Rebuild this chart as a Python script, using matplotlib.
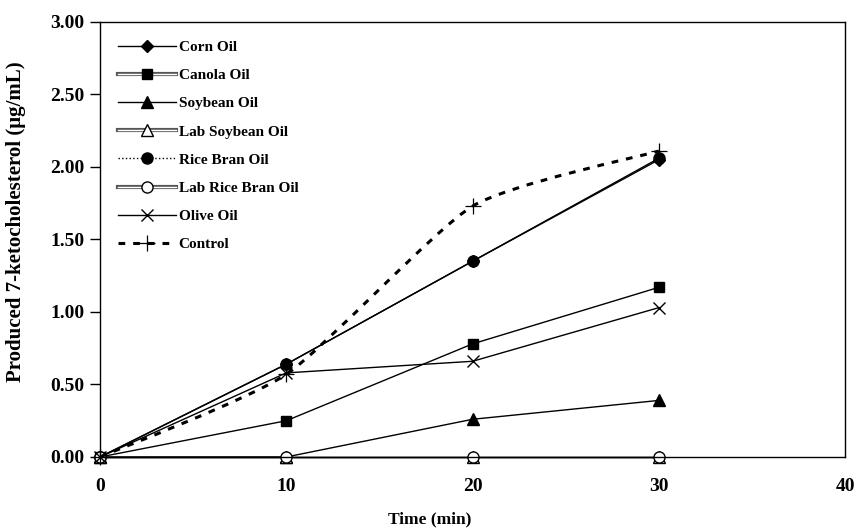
import matplotlib.pyplot as plt
import numpy as np
from matplotlib.lines import Line2D
from matplotlib.path import Path
from matplotlib.patches import PathPatch
from matplotlib.legend_handler import HandlerTuple

plt.rcParams['font.family'] = ['Liberation Serif', 'DejaVu Serif']
plt.rcParams['font.weight'] = 'bold'

time = [0, 10, 20, 30]

corn = [0.0, 0.64, 1.35, 2.05]
canola = [0.0, 0.25, 0.78, 1.17]
soybean = [0.0, 0.0, 0.26, 0.39]
lab_soybean = [0.0, 0.0, 0.0, 0.0]
rice_bran = [0.0, 0.64, 1.35, 2.06]
lab_rice_bran = [0.0, 0.0, 0.0, 0.0]
olive = [0.0, 0.58, 0.66, 1.03]
control = [0.0, 0.57, 1.73, 2.11]

fig = plt.figure(figsize=(8.58, 5.31), dpi=100)
ax = fig.add_axes([0.1166, 0.1394, 0.8684, 0.8192])

ms = 7
lw = 1.0
common = dict(color='black', lw=lw, clip_on=False)
ax.plot(time, corn, marker='D', ms=ms - 1, **common)
ax.plot(time, canola, marker='s', ms=ms, **common)
ax.plot(time, soybean, marker='^', ms=ms + 1, **common)
ax.plot(time, lab_soybean, marker='^', ms=ms + 1, mfc='white', mec='black', mew=1.0, **common)
ax.plot(time, rice_bran, marker='o', ms=ms + 1, **common)
ax.plot(time, lab_rice_bran, marker='o', ms=ms + 1, mfc='white', mec='black', mew=1.0,
        **common)
ax.plot(time, olive, marker='x', ms=ms + 2, mew=1.0, **common)

# control: lightly smoothed dashed curve through the points (cubic Bezier segments)
pts = np.column_stack([time, control]).astype(float)
ext = np.vstack([pts[0], pts, pts[-1]])
verts = [tuple(pts[0])]
codes = [Path.MOVETO]
for i in range(1, len(ext) - 2):
    p0, p1, p2, p3 = ext[i - 1], ext[i], ext[i + 1], ext[i + 2]
    c1 = p1 + (p2 - p0) / 10.0
    c2 = p2 - (p3 - p1) / 10.0
    verts += [tuple(c1), tuple(c2), tuple(p2)]
    codes += [Path.CURVE4] * 3
ax.add_patch(PathPatch(Path(verts, codes), fill=False, edgecolor='black',
                       lw=2.2, linestyle=(0, (2.2, 2.6)), zorder=3))
ax.plot(time, control, linestyle='none', marker='+', color='black', ms=ms + 4, mew=0.9,
        clip_on=False)

ax.set_xlim(0, 40)
ax.set_ylim(0, 3.0)
ax.set_xticks([0, 10, 20, 30, 40])
ax.set_yticks(np.arange(0, 3.01, 0.5))
ax.set_yticklabels([f"{v:.2f}" for v in np.arange(0, 3.01, 0.5)])
ax.tick_params(axis='both', direction='out', length=7, width=1.0, labelsize=14)
ax.tick_params(axis='y', pad=4)
ax.tick_params(axis='x', length=0, pad=15)
for side in ['top', 'right']:
    ax.spines[side].set_visible(False)
ax.spines['left'].set_linewidth(1.0)
ax.spines['bottom'].set_linewidth(1.0)
ax.axhline(3.0, color='black', lw=1.0, clip_on=False)
ax.axvline(40, color='black', lw=1.0, clip_on=False)

ax.set_xlabel("Time (min)", fontsize=12.5, fontweight='bold')
ax.xaxis.set_label_coords(0.443, -0.125)
ax.set_ylabel("Produced 7-ketocholesterol (\u03bcg/mL)", fontsize=15, fontweight='bold')
ax.yaxis.set_label_coords(-0.1, 0.54)


def double_line(mk, **kw):
    outer = Line2D([], [], color='#555555', lw=3.0)
    inner = Line2D([], [], color='white', lw=1.0)
    m = Line2D([], [], linestyle='none', marker=mk, color='black', **kw)
    return (outer, inner, m)


handles = [
    Line2D([], [], color='black', lw=lw, marker='D', ms=ms - 1),
    double_line('s', ms=ms),
    Line2D([], [], color='black', lw=lw, marker='^', ms=ms + 1),
    double_line('^', ms=ms + 1, mfc='white', mec='black'),
    Line2D([], [], color='black', lw=lw, ls=':', marker='o', ms=ms + 1),
    double_line('o', ms=ms + 1, mfc='white', mec='black'),
    Line2D([], [], color='black', lw=lw, marker='x', ms=ms + 2),
    Line2D([], [], color='black', lw=2.2, ls=(0, (2.2, 2.6)), marker='+', ms=ms + 4,
           mew=0.9),
]
labels = ["Corn Oil", "Canola Oil", "Soybean Oil", "Lab Soybean Oil", "Rice Bran Oil",
          "Lab Rice Bran Oil", "Olive Oil", "Control"]
ax.legend(handles, labels, loc='upper left', bbox_to_anchor=(0.0, 1.0), frameon=False,
          fontsize=11, handlelength=3.8, handletextpad=0.15, labelspacing=0.95,
          borderaxespad=0.8,
          handler_map={tuple: HandlerTuple(ndivide=1, pad=0)})

fig.savefig('out.png', dpi=100)
